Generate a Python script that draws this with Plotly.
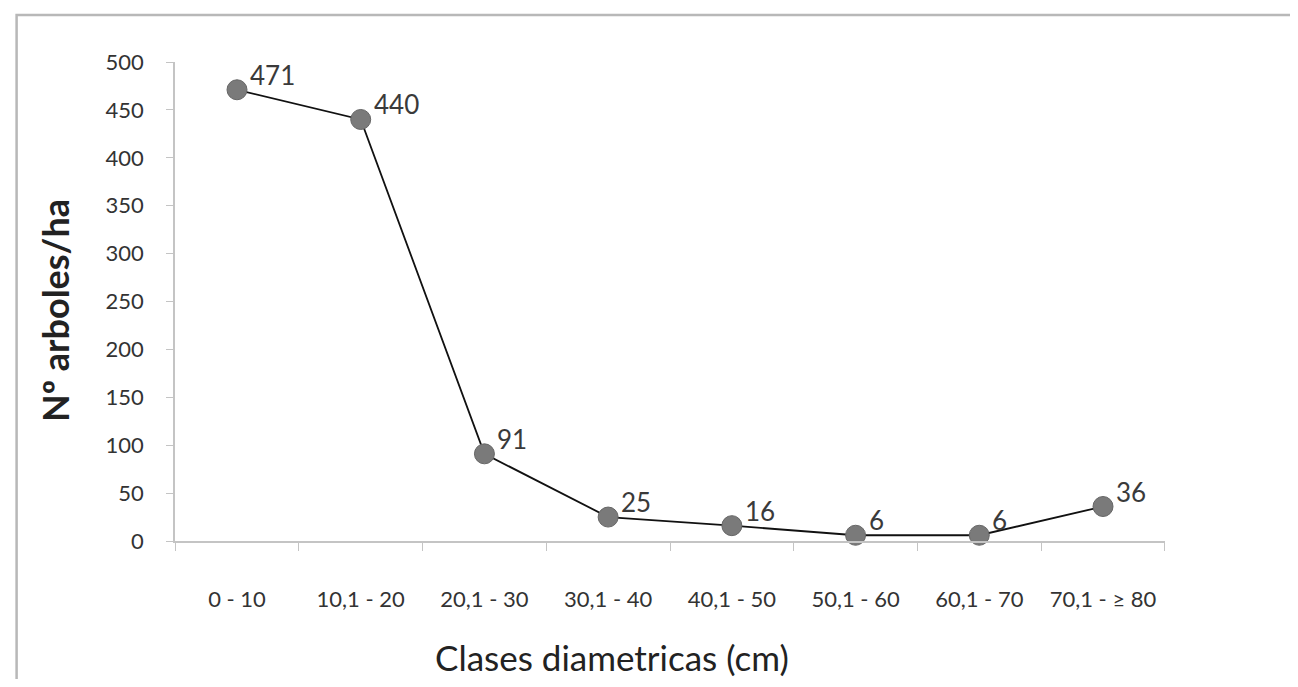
import plotly.graph_objects as go

categories = ["0 - 10", "10,1 - 20", "20,1 - 30", "30,1 - 40", "40,1 - 50", "50,1 - 60", "60,1 - 70", "70,1 - ≥ 80"]
arboles_ha = [471, 440, 91, 25, 16, 6, 6, 36]
y_ticks = [0, 50, 100, 150, 200, 250, 300, 350, 400, 450, 500]

FONT = "Lato, sans-serif"

fig = go.Figure()
fig.add_trace(go.Scatter(
    x=categories, y=arboles_ha,
    mode="lines+markers",
    line=dict(color="#111111", width=1.8),
    marker=dict(size=20, color="#7a7a7a", line=dict(color="#666666", width=1)),
    cliponaxis=False,
    showlegend=False,
))

# data labels placed above-right of each point
for c, v in zip(categories, arboles_ha):
    fig.add_annotation(x=c, y=v, text=str(v), showarrow=False,
                       xanchor="left", yanchor="bottom", xshift=11, yshift=-3,
                       font=dict(family=FONT, size=26, color="#3a3a3a"))

fig.update_layout(
    width=1282, height=671,
    paper_bgcolor="white", plot_bgcolor="white",
    margin=dict(l=167, r=125, t=54, b=138),
    font=dict(family=FONT, color="#333333"),
    xaxis=dict(
        type="category",
        tickson="boundaries",
        ticks="outside", ticklen=8, tickcolor="#c4c4c4",
        showline=True, linecolor="#c4c4c4", linewidth=1.5,
        showgrid=False, zeroline=False,
        tickfont=dict(size=22, color="#333333"),
        ticklabelstandoff=38,
    ),
    yaxis=dict(
        range=[0, 500],
        tickvals=y_ticks,
        ticks="outside", ticklen=7, tickcolor="#c4c4c4",
        showline=True, linecolor="#c4c4c4", linewidth=1.5,
        showgrid=False, zeroline=False,
        tickfont=dict(size=22, color="#333333"),
        ticklabelstandoff=18,
    ),
)

fig.add_annotation(xref="paper", yref="paper", x=0.441, y=0, yshift=-116,
                   xanchor="center", yanchor="middle", showarrow=False,
                   text="Clases diametricas (cm)",
                   font=dict(family=FONT, size=35, color="#222222"))
fig.add_annotation(xref="paper", yref="paper", x=0, y=0.48, xshift=-120,
                   xanchor="center", yanchor="middle", showarrow=False, textangle=-90,
                   text="<b>Nº arboles/ha</b>",
                   font=dict(family=FONT, size=36, color="#222222"))

fig.add_shape(type="rect", xref="paper", yref="paper",
              x0=-0.16, x1=1.2, y0=-0.35, y1=1.098,
              line=dict(color="#b8b8b8", width=2.5))

fig.write_html("out.html")
